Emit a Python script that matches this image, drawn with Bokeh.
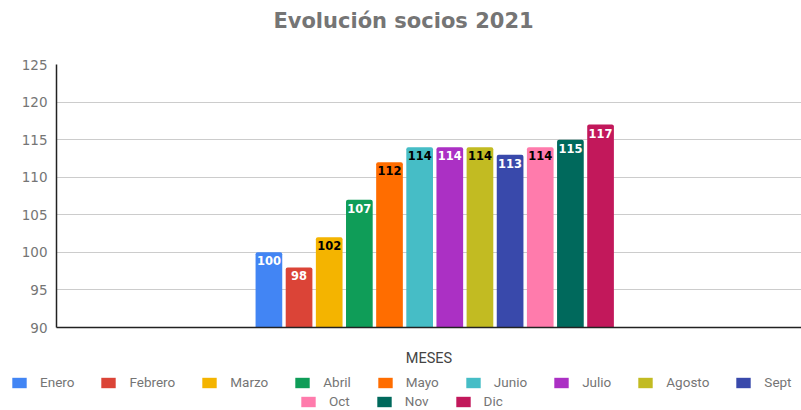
from bokeh.plotting import figure
from bokeh.models import (Range1d, ColumnDataSource, LabelSet, Label, Legend,
                          LegendItem, FixedTicker)
from bokeh.layouts import column
from bokeh.core.properties import value
from bokeh.embed import file_html
from bokeh.resources import INLINE

# ---- data ----
title_text = "Evolución socios 2021"
x_title = "MESES"
months = ["Enero", "Febrero", "Marzo", "Abril", "Mayo", "Junio",
          "Julio", "Agosto", "Sept", "Oct", "Nov", "Dic"]
socios = [100, 98, 102, 107, 112, 114, 114, 114, 113, 114, 115, 117]
colors = ["#4285F4", "#DB4437", "#F4B400", "#0F9D58", "#FF6D00", "#46BDC6",
          "#AB30C4", "#C2BB22", "#3949AB", "#FF7BAC", "#00695C", "#C2185B"]
y_min, y_max = 90, 125
y_ticks = [90, 95, 100, 105, 110, 115, 120, 125]

W = 801


def label_color(hexc):
    r, g, b = int(hexc[1:3], 16), int(hexc[3:5], 16), int(hexc[5:7], 16)
    lum = 0.299 * r + 0.587 * g + 0.114 * b
    return "#000000" if lum > 135 else "#ffffff"


src = ColumnDataSource(dict(
    x=list(range(len(months))),
    top=socios,
    bottom=[y_min] * len(months),
    color=colors,
    label=[str(v) for v in socios],
    label_color=[label_color(c) for c in colors],
    month=months,
))

# ---------- header (title) ----------
head = figure(width=W, height=40, x_axis_location=None, y_axis_location=None,
              min_border=0, toolbar_location=None, output_backend="svg",
              x_range=Range1d(0, 1), y_range=Range1d(0, 1), frame_align=False)
head.outline_line_color = None
head.grid.visible = False
head.add_layout(Label(x=403, y=20, x_units="screen", y_units="screen",
                      text=title_text, text_align="center", text_baseline="middle",
                      text_font="DejaVu Sans", text_font_style="bold",
                      text_font_size="21px", text_color="#757575"))

# ---------- main chart ----------
p = figure(width=W, height=330,
           x_range=Range1d(-7.045, 17.665), y_range=Range1d(y_min, y_max),
           output_backend="svg", toolbar_location=None, frame_align=False,
           min_border_left=56, min_border_right=0, min_border_top=24, min_border_bottom=43)
p.outline_line_color = None
p.background_fill_color = "white"

r = p.vbar(x="x", top="top", bottom="bottom", width=0.885, source=src,
           fill_color="color", line_color=None, border_radius=(2, 2, 0, 0))

labels = LabelSet(x="x", y="top", text="label", source=src,
                  text_align="center", text_baseline="top", y_offset=-4,
                  text_font=value("DejaVu Sans"), text_font_style="bold",
                  text_font_size="11.5px", text_color="label_color")
p.add_layout(labels)

# y axis
p.yaxis.ticker = FixedTicker(ticks=y_ticks)
p.yaxis.major_tick_out = 0
p.yaxis.major_tick_in = 0
p.yaxis.minor_tick_line_color = None
p.yaxis.major_label_standoff = 9
p.yaxis.major_label_text_font = "DejaVu Sans"
p.yaxis.major_label_text_font_size = "13.5px"
p.yaxis.major_label_text_color = "#757575"
p.yaxis.axis_line_color = "#222222"
p.yaxis.axis_line_width = 1.5

# x axis
p.xaxis.ticker = FixedTicker(ticks=[])
p.xaxis.major_tick_out = 0
p.xaxis.major_tick_in = 0
p.xaxis.minor_tick_line_color = None
p.xaxis.major_label_standoff = 0
p.xaxis.axis_label = x_title
p.xaxis.axis_label_text_font = "Roboto"
p.xaxis.axis_label_text_font_size = "14.5px"
p.xaxis.axis_label_text_font_style = "normal"
p.xaxis.axis_label_text_color = "#444444"
p.xaxis.axis_label_standoff = 22
p.xaxis.axis_line_color = "#222222"
p.xaxis.axis_line_width = 1.5

# grid
p.xgrid.visible = False
p.ygrid.ticker = FixedTicker(ticks=y_ticks)
p.ygrid.grid_line_color = "#cccccc"

# ---------- legend strip ----------
lg = figure(width=W, height=40, x_axis_location=None, y_axis_location=None,
            min_border=0, toolbar_location=None, output_backend="svg",
            x_range=Range1d(-100, -99), y_range=Range1d(0, 1), frame_align=False)
lg.outline_line_color = None
lg.grid.visible = False
lr = lg.vbar(x="x", top="top", bottom="bottom", width=0.885, source=src,
             fill_color="color", line_color=None)

items = [LegendItem(label=m, renderers=[lr], index=i) for i, m in enumerate(months)]


def make_legend(its, loc):
    return Legend(items=its, orientation="horizontal", location=loc,
                  glyph_width=18, glyph_height=13, label_standoff=12, spacing=25,
                  label_height=13, label_width=10, padding=0, margin=0,
                  border_line_color=None, background_fill_alpha=0,
                  label_text_font="Roboto", label_text_font_size="13.5px",
                  label_text_color="#757575", click_policy="none")


lg.add_layout(make_legend(items[:9], (10, 20)))
lg.add_layout(make_legend(items[9:], (299, 1)))

layout = column(head, p, lg, spacing=0)
open("out.html", "w").write(file_html(layout, INLINE))
